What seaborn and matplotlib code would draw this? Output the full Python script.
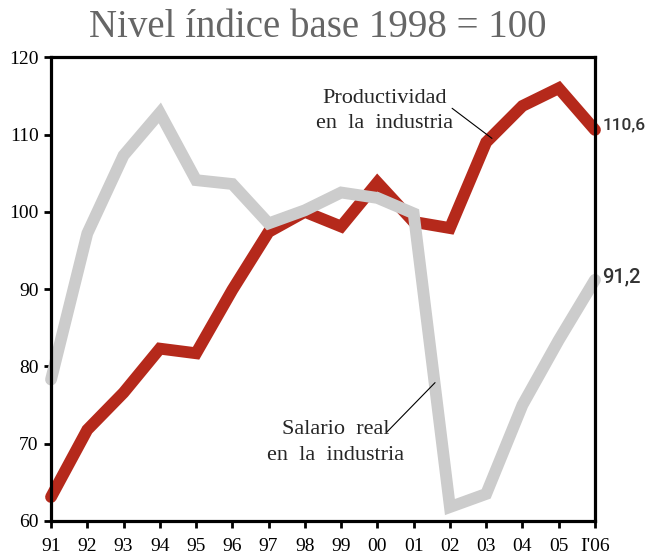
import seaborn as sns
import matplotlib.pyplot as plt
import pandas as pd

# Data (index 1998 = 100)
years = ["91", "92", "93", "94", "95", "96", "97", "98", "99", "00",
         "01", "02", "03", "04", "05", "I'06"]
productividad = [63.1, 71.8, 76.6, 82.3, 81.7, 89.9, 97.4, 100.0, 98.1, 103.8,
                 98.7, 97.9, 109.0, 113.7, 116.0, 110.6]
salario = [78.3, 97.2, 107.3, 112.8, 104.1, 103.6, 98.5, 100.2, 102.5, 101.8,
           99.8, 61.8, 63.5, 75.0, 83.4, 91.2]

RED = "#b5291b"
GREY = "#cccccc"

df = pd.DataFrame({"x": range(len(years)), "prod": productividad, "sal": salario})

sns.set_style("ticks")
plt.rcParams["font.family"] = ["Liberation Serif", "DejaVu Serif"]

fig = plt.figure(figsize=(6.46, 5.56), dpi=100)
ax = fig.add_axes([0.079, 0.063, 0.842, 0.834])

sns.lineplot(data=df, x="x", y="prod", ax=ax, color=RED, linewidth=8.5,
             solid_joinstyle="miter", solid_capstyle="round", clip_on=False)
sns.lineplot(data=df, x="x", y="sal", ax=ax, color=GREY, linewidth=8.5,
             solid_joinstyle="miter", solid_capstyle="round", clip_on=False)

ax.set_xlim(0, len(years) - 1)
ax.set_ylim(60, 120)
ax.set_xticks(range(len(years)))
ax.set_xticklabels(years)
ax.set_yticks(range(60, 121, 10))
ax.set_xlabel("")
ax.set_ylabel("")
for s in ax.spines.values():
    s.set_visible(True)
    s.set_linewidth(2.3)
    s.set_color("black")
ax.tick_params(axis="both", direction="out", length=5, width=2, labelsize=14,
               colors="black")
ax.tick_params(axis="y", pad=4)
ax.tick_params(axis="x", pad=7)
ax.tick_params(top=False, right=False)

# annotations
ax.text(9.2, 114.7, "Productividad", ha="center", va="center", fontsize=16)
ax.text(9.2, 111.4, "en  la  industria", ha="center", va="center", fontsize=16)
ax.plot([11.06, 12.16], [113.4, 109.5], color="black", lw=0.8)

ax.text(7.85, 71.8, "Salario  real", ha="center", va="center", fontsize=16)
ax.text(7.85, 68.5, "en  la  industria", ha="center", va="center", fontsize=16)
ax.plot([9.26, 10.59], [71.5, 77.9], color="black", lw=0.8)

ax.text(15.2, 111.2, "110,6", ha="left", va="center", fontsize=12.5,
        family="Roboto", weight="medium", color="#333333")
ax.text(15.2, 91.6, "91,2", ha="left", va="center", fontsize=14.5,
        family="Roboto", weight="medium", color="#333333")

fig.text(0.492, 0.95, "Nivel índice base 1998 = 100", ha="center", va="center",
         fontsize=28, color="#666666")

fig.savefig("out.png", dpi=100)
